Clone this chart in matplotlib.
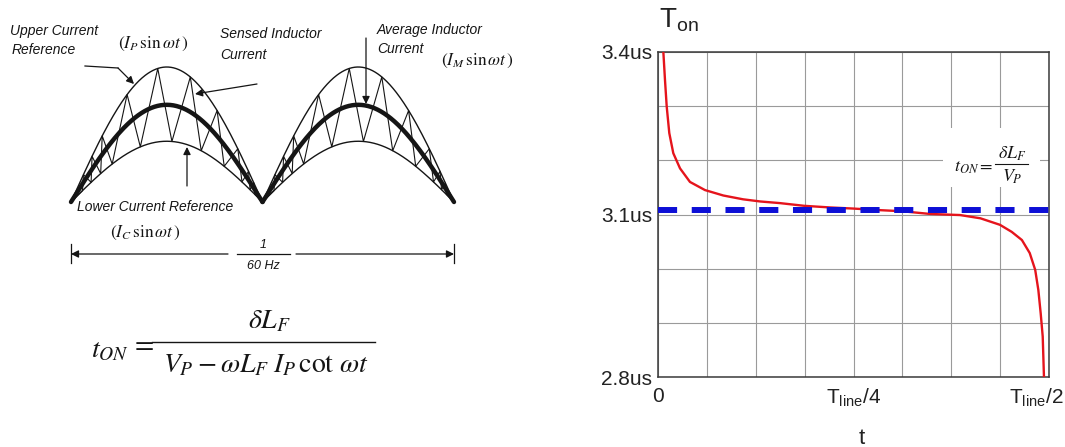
import numpy as np
import matplotlib.pyplot as plt
import matplotlib.transforms as mtransforms
from matplotlib.patches import Rectangle

plt.rcParams['font.family'] = ['Liberation Sans', 'DejaVu Sans']
plt.rcParams['mathtext.fontset'] = 'custom'
plt.rcParams['mathtext.rm'] = 'Liberation Sans'
plt.rcParams['mathtext.it'] = 'Liberation Sans:italic'
plt.rcParams['mathtext.bf'] = 'Liberation Sans:bold'

# --- hysteretic current envelopes (relative to the upper reference) ---
i_upper = 1.00   # I_P
i_avg = 0.72     # I_M
i_lower = 0.45   # I_C
n_half_cycles = 2

# sensed inductor current: switching points inside one half cycle
# (phase as fraction of the half cycle, envelope touched)
zig_phase = [0.0, 0.06, 0.065, 0.105, 0.11, 0.155, 0.163, 0.215, 0.293, 0.362,
             0.453, 0.527, 0.623, 0.68, 0.763, 0.80, 0.871, 0.893, 0.927,
             0.935, 0.955, 0.96, 1.0]
zig_level = ['L', 'L', 'U', 'L', 'U', 'L', 'U', 'L', 'U', 'L',
             'U', 'L', 'U', 'L', 'U', 'L', 'U', 'L', 'U',
             'L', 'U', 'L', 'L']

# --- on-time over half a line period ---
t_frac = [0.0072, 0.0093, 0.0115, 0.0148, 0.0199, 0.0285, 0.0412, 0.0604, 0.0838,
          0.109, 0.131, 0.156, 0.187, 0.220, 0.249, 0.284, 0.312, 0.348, 0.386,
          0.412, 0.437, 0.452, 0.465, 0.475, 0.482, 0.486, 0.489, 0.4916, 0.4932]
t_on = [3.400, 3.348, 3.299, 3.250, 3.213, 3.185, 3.160, 3.145, 3.135,
        3.128, 3.124, 3.121, 3.116, 3.113, 3.111, 3.108, 3.106, 3.101, 3.099,
        3.093, 3.081, 3.068, 3.053, 3.029, 2.998, 2.961, 2.918, 2.875, 2.800]
t_on_const = 3.108
x_ticks = [0, 0.25, 0.5]
x_ticklabels = ['0', r'T$_{\rm line}$/4', r'T$_{\rm line}$/2']
y_ticks = [2.8, 3.1, 3.4]
y_ticklabels = ['2.8us', '3.1us', '3.4us']

W, H = 1065, 447
fig = plt.figure(figsize=(W / 100, H / 100), dpi=100)

# pixel-space canvas for the left sketch
cv = fig.add_axes([0, 0, 1, 1])
cv.set_xlim(0, W)
cv.set_ylim(H, 0)
cv.axis('off')

ink = '#151515'
x0, span, base, scale = 71, 191.5, 202, 135

ph = np.linspace(0, 1, 300)
for k in range(n_half_cycles):
    xs = x0 + (k + ph) * span
    for amp, lw in [(i_upper, 1.0), (i_lower, 1.0), (i_avg, 3.2)]:
        cv.plot(xs, base - scale * amp * np.sin(np.pi * ph), color=ink, lw=lw,
                solid_capstyle='round')
    zp = np.array(zig_phase)
    za = np.array([i_upper if s == 'U' else i_lower for s in zig_level])
    cv.plot(x0 + (k + zp) * span, base - scale * za * np.sin(np.pi * zp),
            color=ink, lw=0.8)

lab = dict(fontsize=10, style='italic', color=ink, va='center', ha='left')
cv.text(10, 31, 'Upper Current', **lab)
cv.text(12, 50, 'Reference', **lab)
cv.text(220, 34, 'Sensed Inductor', **lab)
cv.text(220, 55, 'Current', **lab)
cv.text(377, 30, 'Average Inductor', **lab)
cv.text(377, 49, 'Current', **lab)
cv.text(77, 207, 'Lower Current Reference', **lab)

tim = dict(fontsize=12.5, color=ink, va='center', ha='left', math_fontfamily='stix')
cv.text(118, 44, r'$(I_P\,\sin\omega t\,)$', **tim)
cv.text(441, 61, r'$(I_M\,\sin\omega t\,)$', **tim)
cv.text(110, 233, r'$(I_C\,\sin\omega t\,)$', **tim)

# pointer arrows
arr = dict(arrowstyle='-|>', color=ink, lw=0.9, mutation_scale=11,
           shrinkA=0, shrinkB=0)
cv.plot([85, 118], [66, 68], color=ink, lw=0.9)
cv.annotate('', xy=(134, 84), xytext=(118, 68), arrowprops=arr)
cv.annotate('', xy=(195, 94), xytext=(257, 84), arrowprops=arr)
cv.annotate('', xy=(187, 147), xytext=(187, 186), arrowprops=arr)
cv.annotate('', xy=(366, 104), xytext=(366, 38), arrowprops=arr)

# 1/60 Hz span
cv.annotate('', xy=(71, 254), xytext=(228, 254), arrowprops=arr)
cv.annotate('', xy=(454, 254), xytext=(296, 254), arrowprops=arr)
cv.plot([71, 71], [244, 263], color=ink, lw=0.9)
cv.plot([454, 454], [244, 263], color=ink, lw=0.9)
cv.plot([237, 290], [254, 254], color=ink, lw=0.9)
cv.text(263, 245, '1', fontsize=9, style='italic', color=ink, ha='center', va='center')
cv.text(263, 266, '60 Hz', fontsize=9, style='italic', color=ink, ha='center', va='center')

# on-time expression
big = dict(fontsize=20, color=ink, math_fontfamily='stix', va='baseline')
cv.text(91, 357, r'$t_{ON}$', ha='left', **big)
cv.text(142, 351, r'$=$', ha='center', **big)
cv.plot([152, 375], [342, 342], color=ink, lw=1.0)
cv.text(269, 328, r'$\delta L_F$', ha='center', **big)
cv.text(266, 372, r'$V_P - \omega L_F\; I_P\,\cot\,\omega t$', ha='center', **big)

# --- T_on vs t ---
ax = fig.add_axes([657.7 / W, (H - 377.3) / H, (1049.3 - 657.7) / W, (377.3 - 51.7) / H])
ax.plot(t_frac, t_on, color='#e5141c', lw=1.7, zorder=3)
ax.axhline(t_on_const, color='#0d0fd6', lw=4.3, dashes=(3.2, 2.45), zorder=4)
ax.set_xlim(0, 0.5)
ax.set_ylim(2.8, 3.4)
ax.set_xticks(x_ticks)
ax.set_xticklabels(x_ticklabels)
ax.set_xticks(np.arange(0, 0.5001, 0.0625), minor=True)
ax.set_yticks(y_ticks)
ax.set_yticklabels(y_ticklabels)
ax.set_yticks(np.arange(2.8, 3.4001, 0.1), minor=True)
ax.grid(which='both', color='#9a9a9a', lw=0.8)
ax.set_axisbelow(True)
ax.tick_params(which='both', length=0, labelsize=15, colors='#222222')
ax.tick_params(axis='x', pad=7)
ax.tick_params(axis='y', pad=4)
for s in ax.spines.values():
    s.set_color('#3a3a3a')
    s.set_linewidth(1.1)
last = ax.get_xticklabels()[-1]
last.set_transform(last.get_transform() +
                   mtransforms.ScaledTranslation(-0.13, 0, fig.dpi_scale_trans))

# inset expression on a white patch
ax.add_patch(Rectangle((943, 128), 97, 59, transform=cv.transData,
                       facecolor='white', edgecolor='none', zorder=2))
sm = dict(fontsize=13, color=ink, math_fontfamily='stix', va='baseline',
          transform=cv.transData, zorder=5)
ax.text(993, 172, r'$t_{ON}=$', ha='right', **sm)
ax.plot([995, 1028], [164, 164], color=ink, lw=0.8, transform=cv.transData, zorder=5)
ax.text(1012, 159, r'$\delta L_F$', ha='center', **sm)
ax.text(1012, 182, r'$V_P$', ha='center', **sm)

cv.text(659, 28, r'T$_{\rm on}$', fontsize=20, color='#222222', ha='left', va='baseline')
cv.text(862, 444, 't', fontsize=16, color='#222222', ha='center', va='baseline')

fig.savefig('out.png', dpi=100)
